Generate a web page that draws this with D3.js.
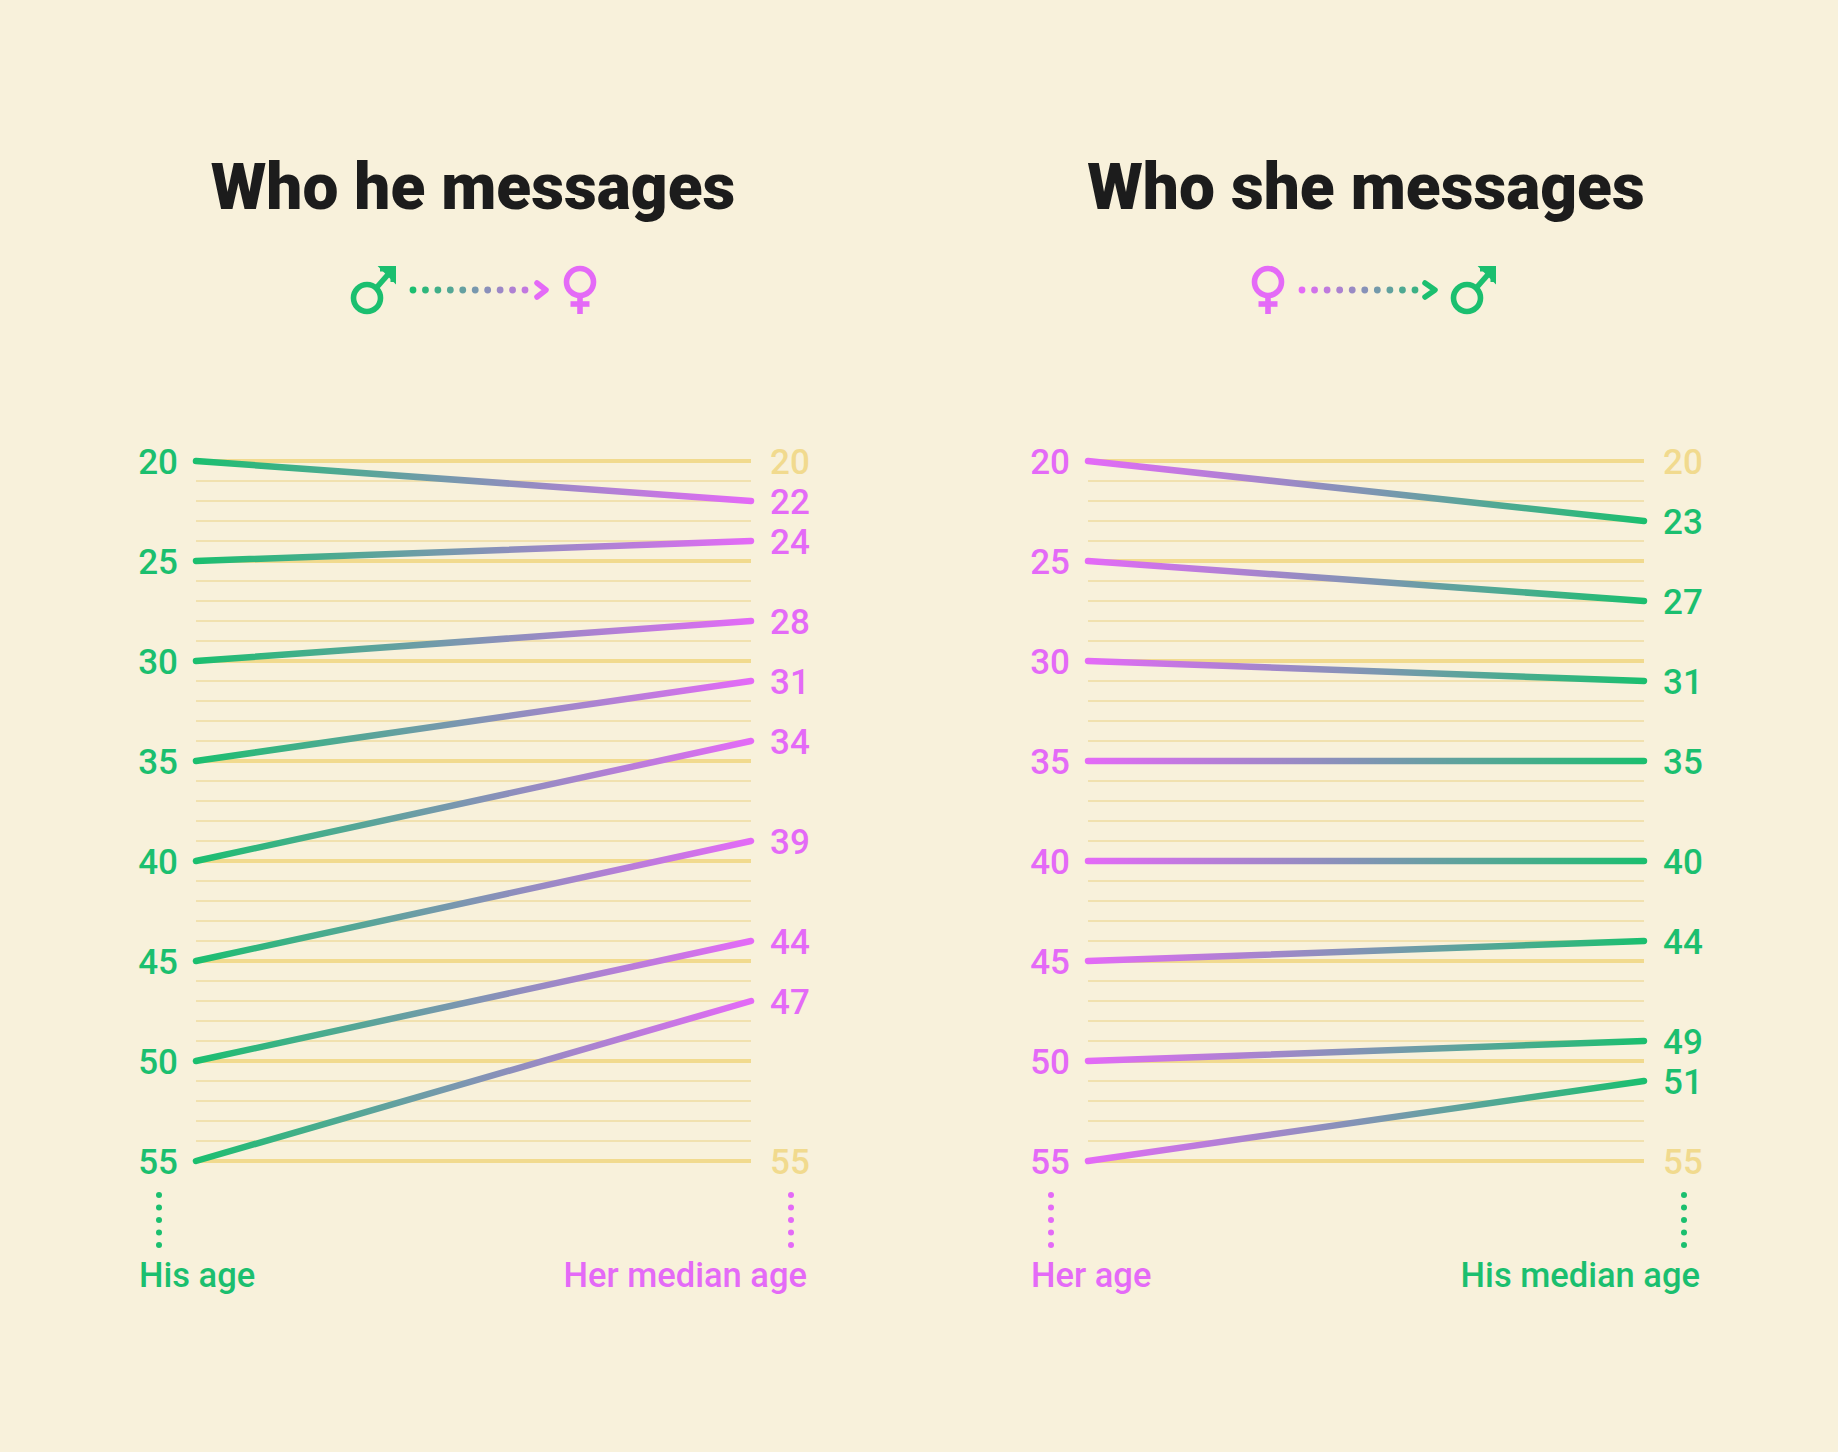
<!DOCTYPE html>
<html>
<head>
<meta charset="utf-8">
<script src="https://cdn.jsdelivr.net/npm/d3@7"></script>
<style>
  html, body { margin: 0; padding: 0; background: #f8f1db; }
  svg { display: block; }
  .num { font-family: "Roboto", sans-serif; font-weight: 500; font-size: 35px; }
  .title { font-family: "Roboto", "Inter", sans-serif; font-weight: 900; font-size: 64px; fill: #1c1c1c; }
  .axislab { font-family: "Roboto", sans-serif; font-weight: 500; font-size: 34.5px; }
</style>
</head>
<body>
<svg id="chart" width="1838" height="1452"></svg>
<script>
// ---------- DATA ----------
const ages = [20, 25, 30, 35, 40, 45, 50, 55];
const herMedianAge = [22, 24, 28, 31, 34, 39, 44, 47];   // who he messages
const hisMedianAge = [23, 27, 31, 35, 40, 44, 49, 51];   // who she messages
const gridAges = d3.range(20, 56);
const majorTicks = [20, 25, 30, 35, 40, 45, 50, 55];
const rightAxisTicks = [20, 55];
const titles = ["Who he messages", "Who she messages"];
const leftAxisTitles = ["His age", "Her age"];
const rightAxisTitles = ["Her median age", "His median age"];

// ---------- STYLE ----------
const GREEN = "#1bbf6f";
const PINK = "#e46af7";
const GRID = "#f1da8e";
const GRID_THIN = "#efdba0";
const BG = "#f8f1db";

const svg = d3.select("#chart");
svg.append("rect").attr("width", 1838).attr("height", 1452).attr("fill", BG);
const defs = svg.append("defs");

const y = d3.scaleLinear().domain([20, 55]).range([461, 1161]);

const panels = [
  { key: "he", x0: 196, x1: 751, cx: 473, from: GREEN, to: PINK, left: ages, right: herMedianAge,
    title: titles[0], lt: leftAxisTitles[0], rt: rightAxisTitles[0],
    sym: { first: "male", firstX: 367, dots: [413, 525], chev: [537, 548], second: "female", secondX: 580 } },
  { key: "she", x0: 1088, x1: 1644, cx: 1366, from: PINK, to: GREEN, left: ages, right: hisMedianAge,
    title: titles[1], lt: leftAxisTitles[1], rt: rightAxisTitles[1],
    sym: { first: "female", firstX: 1268, dots: [1302, 1415], chev: [1425, 1437], second: "male", secondX: 1467 } }
];

const SW = 5.6;
function drawMale(g, cx, color) {
  const cy = 298, r = 13.5;
  g.append("circle").attr("cx", cx).attr("cy", cy).attr("r", r)
    .attr("fill", "none").attr("stroke", color).attr("stroke-width", SW);
  const tipX = cx + 28, tipY = cy - 31;
  g.append("line").attr("x1", cx + r * 0.68).attr("y1", cy - r * 0.74)
    .attr("x2", tipX - 3).attr("y2", tipY + 3)
    .attr("stroke", color).attr("stroke-width", SW);
  g.append("path").attr("d", `M${tipX - 15},${tipY} L${tipX},${tipY} L${tipX},${tipY + 15} Z`)
    .attr("fill", color).attr("stroke", color).attr("stroke-width", 2)
    .attr("stroke-linejoin", "miter");
  g.append("rect").attr("x", tipX - 15).attr("y", tipY - 1).attr("width", 15.5).attr("height", 5.5).attr("fill", color);
  g.append("rect").attr("x", tipX - 4.5).attr("y", tipY - 1).attr("width", 5.5).attr("height", 16).attr("fill", color);
}
function drawFemale(g, cx, color) {
  const cy = 282, r = 13.5;
  g.append("circle").attr("cx", cx).attr("cy", cy).attr("r", r)
    .attr("fill", "none").attr("stroke", color).attr("stroke-width", SW);
  g.append("line").attr("x1", cx).attr("y1", cy + r).attr("x2", cx).attr("y2", cy + 32)
    .attr("stroke", color).attr("stroke-width", SW);
  g.append("line").attr("x1", cx - 9.5).attr("y1", cy + 22).attr("x2", cx + 9.5).attr("y2", cy + 22)
    .attr("stroke", color).attr("stroke-width", SW);
}

panels.forEach((p, pi) => {
  const g = svg.append("g");
  const x = d3.scaleLinear().domain([0, 1]).range([p.x0, p.x1]);

  // gradient for lines
  const gid = "grad-" + p.key;
  const grad = defs.append("linearGradient").attr("id", gid)
    .attr("gradientUnits", "userSpaceOnUse")
    .attr("x1", x(0)).attr("x2", x(1)).attr("y1", 0).attr("y2", 0);
  grad.append("stop").attr("offset", "0%").attr("stop-color", p.from);
  grad.append("stop").attr("offset", "100%").attr("stop-color", p.to);

  // title
  g.append("text").attr("class", "title").attr("x", p.cx).attr("y", 209)
    .attr("text-anchor", "middle").text(p.title);

  // symbols
  const s = p.sym;
  const sg = g.append("g");
  if (s.first === "male") drawMale(sg, s.firstX, p.from); else drawFemale(sg, s.firstX, p.from);
  if (s.second === "male") drawMale(sg, s.secondX, p.to); else drawFemale(sg, s.secondX, p.to);
  const nd = 10;
  const dotX = d3.scaleLinear().domain([0, nd - 1]).range(s.dots);
  const dotColor = d3.scaleLinear().domain([s.dots[0], s.chev[1]]).range([p.from, p.to]).interpolate(d3.interpolateRgb);
  sg.selectAll(".dot").data(d3.range(nd)).join("circle")
    .attr("cx", d => dotX(d)).attr("cy", 290).attr("r", 3.4)
    .attr("fill", d => dotColor(dotX(d)));
  sg.append("path")
    .attr("d", `M${s.chev[0]},${283} L${s.chev[1] - 2},290 L${s.chev[0]},297`)
    .attr("fill", "none").attr("stroke", p.to).attr("stroke-width", 5.5)
    .attr("stroke-linecap", "round").attr("stroke-linejoin", "round");

  // gridlines
  g.append("g").selectAll("line").data(gridAges).join("line")
    .attr("x1", x(0)).attr("x2", x(1))
    .attr("y1", d => y(d)).attr("y2", d => y(d))
    .attr("stroke", d => majorTicks.includes(d) ? GRID : GRID_THIN)
    .attr("stroke-width", d => majorTicks.includes(d) ? 3.8 : 1.5);

  // right axis tick labels (yellow) where no data label
  g.append("g").selectAll("text").data(rightAxisTicks.filter(t => !p.right.includes(t))).join("text")
    .attr("class", "num").attr("x", p.x1 + 19).attr("y", d => y(d)).attr("dy", "0.36em")
    .attr("fill", GRID).text(d => d);

  // lines
  const pairs = p.left.map((a, i) => ({ a, b: p.right[i] }));
  g.append("g").selectAll("line").data(pairs).join("line")
    .attr("x1", x(0)).attr("x2", x(1))
    .attr("y1", d => y(d.a)).attr("y2", d => y(d.b) + 0.001)
    .attr("stroke", `url(#${gid})`).attr("stroke-width", 6.5)
    .attr("stroke-linecap", "round");

  // left labels
  g.append("g").selectAll("text").data(pairs).join("text")
    .attr("class", "num").attr("x", p.x0 - 18).attr("y", d => y(d.a)).attr("dy", "0.36em")
    .attr("text-anchor", "end").attr("fill", p.from).text(d => d.a);
  // right labels
  g.append("g").selectAll("text").data(pairs).join("text")
    .attr("class", "num").attr("x", p.x1 + 19).attr("y", d => y(d.b)).attr("dy", "0.36em")
    .attr("fill", p.to).text(d => d.b);

  // dotted leaders
  const lx = p.x0 - 37, rx = p.x1 + 40;
  [[lx, p.from], [rx, p.to]].forEach(([dx, col]) => {
    g.append("g").selectAll("circle").data(d3.range(5)).join("circle")
      .attr("cx", dx).attr("cy", d => 1195 + d * 12.5).attr("r", 3).attr("fill", col);
  });

  // axis titles
  g.append("text").attr("class", "axislab").attr("x", p.x0 - 57).attr("y", 1287)
    .attr("fill", p.from).text(p.lt);
  g.append("text").attr("class", "axislab").attr("x", p.x1 + 56).attr("y", 1287)
    .attr("text-anchor", "end").attr("fill", p.to).text(p.rt);
});
</script>
</body>
</html>
